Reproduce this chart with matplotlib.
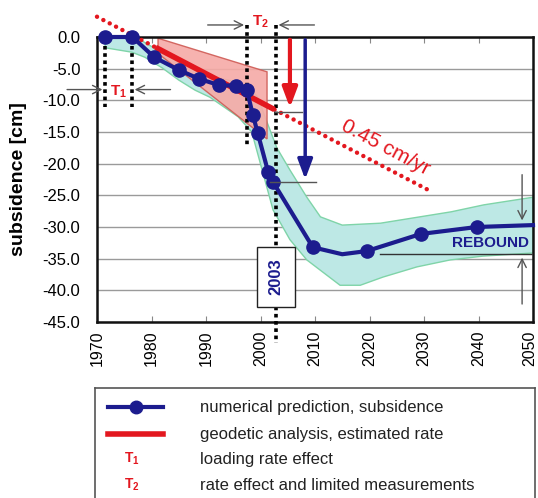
import numpy as np
import matplotlib.pyplot as plt
import matplotlib.transforms as mtransforms
from matplotlib.patches import Polygon

plt.rcParams["font.family"] = ["Liberation Sans", "DejaVu Sans"]
plt.rcParams["mathtext.fontset"] = "custom"
plt.rcParams["mathtext.rm"] = "Liberation Sans"
plt.rcParams["mathtext.bf"] = "Liberation Sans:bold"

NAVY = "#1c1c8e"
RED = "#e3171f"

# numerical prediction (line points, markers on all but two)
line_years = [1971.5, 1976.5, 1980.5, 1985.0, 1988.7, 1992.4, 1995.5, 1997.5, 1998.6, 1999.5,
              2001.4, 2002.3, 2009.6, 2015.0, 2019.5, 2029.4, 2039.7, 2050.0]
line_subs = [0.0, 0.0, -3.2, -5.2, -6.6, -7.6, -7.7, -8.4, -12.3, -15.2,
             -21.3, -22.9, -33.2, -34.3, -33.8, -31.1, -30.0, -29.7]
marker_years = [1971.5, 1976.5, 1980.5, 1985.0, 1988.7, 1992.4, 1995.5, 1997.5, 1998.6, 1999.5,
                2001.4, 2002.3, 2009.6, 2019.5, 2029.4, 2039.7]
marker_subs = [0.0, 0.0, -3.2, -5.2, -6.6, -7.6, -7.7, -8.4, -12.3, -15.2,
               -21.3, -22.9, -33.2, -33.8, -31.1, -30.0]

# uncertainty band
band_up_years = [1971.5, 1976.5, 1979.0, 1981.0, 1985.0, 1990.0, 1995.0, 1998.0, 1999.5, 2001.0,
                 2003.0, 2005.4, 2008.5, 2011.0, 2015.0, 2022.0, 2035.0, 2041.0, 2050.0]
band_up = [0.3, 0.3, -1.0, -2.0, -4.0, -6.0, -7.0, -8.0, -9.5, -13.0,
           -17.5, -21.0, -25.3, -28.4, -29.7, -29.4, -27.6, -26.5, -25.3]
band_lo_years = [1971.5, 1976.4, 1978.8, 1982.0, 1985.0, 1988.0, 1990.7, 1995.9, 1998.4, 2002.3,
                 2005.4, 2008.5, 2014.6, 2018.3, 2022.5, 2028.7, 2034.8, 2040.8, 2050.0]
band_lo = [-1.7, -2.4, -3.2, -4.9, -6.8, -8.4, -9.5, -12.6, -15.0, -27.3,
           -32.0, -35.2, -39.2, -39.2, -37.9, -36.3, -35.2, -34.6, -34.1]

# geodetic analysis
rate = 0.45
rate_y0 = 3.2  # value at 1970
rate_dot_years = [1970.0, 2031.0]
rate_solid_years = [1981.2, 2002.1]
fan_years = [1981.2, 2001.2, 2001.2, 1981.2]
fan_subs = [-0.2, -5.5, -16.1, -2.6]

t1_years = [1971.5, 1976.4]
t2_years = [1997.5, 2002.8]

fig = plt.figure(figsize=(5.38, 4.98), dpi=100)
ax = fig.add_axes([97 / 538, 1 - 322 / 498, 436 / 538, 285 / 498])

ax.set_xlim(1970, 2050)
ax.set_ylim(-45, 0)
ax.set_yticks(np.arange(-45, 0.1, 5))
ax.set_yticklabels([f"{v:.1f}" for v in np.arange(-45, 0.1, 5)])
ax.set_xticks(np.arange(1970, 2051, 10))
ax.tick_params(axis="x", direction="in", top=True, length=4, color="#888888",
               labelrotation=90, labelsize=11.5, pad=6)
ax.tick_params(axis="y", length=0, labelsize=12, pad=12)
ax.grid(axis="y", color="#9a9a9a", lw=1)
ax.set_axisbelow(True)
for s in ax.spines.values():
    s.set_linewidth(1.8)
    s.set_color("#111111")
ax.set_ylabel("subsidence [cm]", fontsize=14, fontweight="bold")
ax.yaxis.set_label_coords(-0.16, 0.5)

# keep the last year label inside the picture
last = ax.get_xticklabels()[-1]
last.set_transform(last.get_transform() + mtransforms.ScaledTranslation(-3 / 100, 0, fig.dpi_scale_trans))

# band
poly_x = band_up_years + band_lo_years[::-1]
poly_y = band_up + band_lo[::-1]
ax.fill(poly_x, poly_y, facecolor="#bde8e5", edgecolor="#7fd4a8", lw=1, zorder=1)

# red fan
ax.add_patch(Polygon(np.column_stack([fan_years, fan_subs]), closed=True,
                     facecolor="#f6aaa6", edgecolor="#cf5b55", lw=1, alpha=0.9, zorder=2))

# rate line
rd = np.array(rate_dot_years)
ax.plot(rd, rate_y0 - rate * (rd - 1970), ls=(0, (0.01, 1.6)), color=RED, lw=3.2,
        dash_capstyle="round", clip_on=False, zorder=3)
rs = np.array(rate_solid_years)
ax.plot(rs, rate_y0 - rate * (rs - 1970), color=RED, lw=4, zorder=5)
ax.text(2023.0, -17.5, "0.45 cm/yr", color=RED, fontsize=15, rotation=-28,
        ha="center", va="center", rotation_mode="anchor")

# dotted vertical markers
dot = dict(color="black", lw=2.6, ls=(0, (1, 1)), zorder=4, clip_on=False)
ax.plot([t1_years[0]] * 2, [-1.5, -11.0], **dot)
ax.plot([t1_years[1]] * 2, [-1.5, -11.0], **dot)
ax.plot([t2_years[0]] * 2, [1.9, -17.0], **dot)
ax.plot([t2_years[1]] * 2, [1.9, -48.3], **dot)

# prediction
ax.plot(line_years, line_subs, color=NAVY, lw=3, zorder=6, clip_on=False)
ax.plot(marker_years, marker_subs, "o", color=NAVY, ms=9.5, zorder=7, clip_on=False)

# arrows for rate comparison
ax.annotate("", xy=(2005.4, -11.6), xytext=(2005.4, 0),
            arrowprops=dict(arrowstyle="-|>,head_width=0.45,head_length=1.2", color=RED, lw=3),
            zorder=8)
ax.annotate("", xy=(2008.2, -22.9), xytext=(2008.2, 0),
            arrowprops=dict(arrowstyle="-|>,head_width=0.45,head_length=1.2", color=NAVY, lw=2.5),
            zorder=8)
ax.plot([2002.7, 2007.6], [-11.8, -11.8], color="#555555", lw=1, zorder=8)
ax.plot([2001.7, 2010.1], [-22.9, -22.9], color="#555555", lw=1, zorder=8)

# T1 / T2 annotations
thin = dict(arrowstyle="->,head_width=0.3,head_length=0.6", color="#555555", lw=1)
ax.annotate("", xy=(t1_years[0], -8.3), xytext=(1964.0, -8.3), arrowprops=thin, annotation_clip=False)
ax.annotate("", xy=(t1_years[1], -8.3), xytext=(1984.0, -8.3), arrowprops=thin)
ax.text(1973.9, -8.6, r"$\mathbf{T_1}$", color=RED, fontsize=11, ha="center", va="center")
ax.annotate("", xy=(t2_years[0], 1.9), xytext=(1989.8, 1.9), arrowprops=thin, annotation_clip=False)
ax.annotate("", xy=(t2_years[1], 1.9), xytext=(2010.4, 1.9), arrowprops=thin, annotation_clip=False)
ax.text(2000.0, 2.4, r"$\mathbf{T_2}$", color=RED, fontsize=11, ha="center", va="center")

ax.text(2002.8, -37.9, "2003", color=NAVY, fontsize=12, fontweight="bold", rotation=90,
        ha="center", va="center", zorder=9,
        bbox=dict(boxstyle="square,pad=0.7", facecolor="white", edgecolor="#222222", lw=1))

# rebound
ax.plot([2022.0, 2050.0], [-34.3, -34.3], color="#333333", lw=1, zorder=6)
ax.annotate("", xy=(2048.0, -29.4), xytext=(2048.0, -21.3), arrowprops=thin)
ax.annotate("", xy=(2048.0, -34.4), xytext=(2048.0, -42.6), arrowprops=thin)
ax.text(2049.3, -32.5, "REBOUND", color=NAVY, fontsize=11, fontweight="bold",
        ha="right", va="center", zorder=9)

# legend box
lg = fig.add_axes([95 / 538, -12 / 498, 440 / 538, 122 / 498])
lg.set_xlim(95, 535)
lg.set_ylim(508, 386)
lg.set_xticks([])
lg.set_yticks([])
for s in lg.spines.values():
    s.set_linewidth(1.2)
    s.set_color("#555555")
leg_rows = [405, 432, 457, 483]
leg_labels = ["numerical prediction, subsidence", "geodetic analysis, estimated rate",
              "loading rate effect", "rate effect and limited measurements"]
lg.plot([108, 163], [leg_rows[0]] * 2, color=NAVY, lw=3)
lg.plot([135.5], [leg_rows[0]], "o", color=NAVY, ms=9)
lg.plot([108, 163], [leg_rows[1]] * 2, color=RED, lw=4)
lg.text(132, leg_rows[2], r"$\mathbf{T_1}$", color=RED, fontsize=10, ha="center", va="center")
lg.text(132, leg_rows[3], r"$\mathbf{T_2}$", color=RED, fontsize=10, ha="center", va="center")
for yy, lab in zip(leg_rows, leg_labels):
    lg.text(200, yy, lab, fontsize=12, color="#222222", va="center")

fig.savefig("out.png", dpi=100)
